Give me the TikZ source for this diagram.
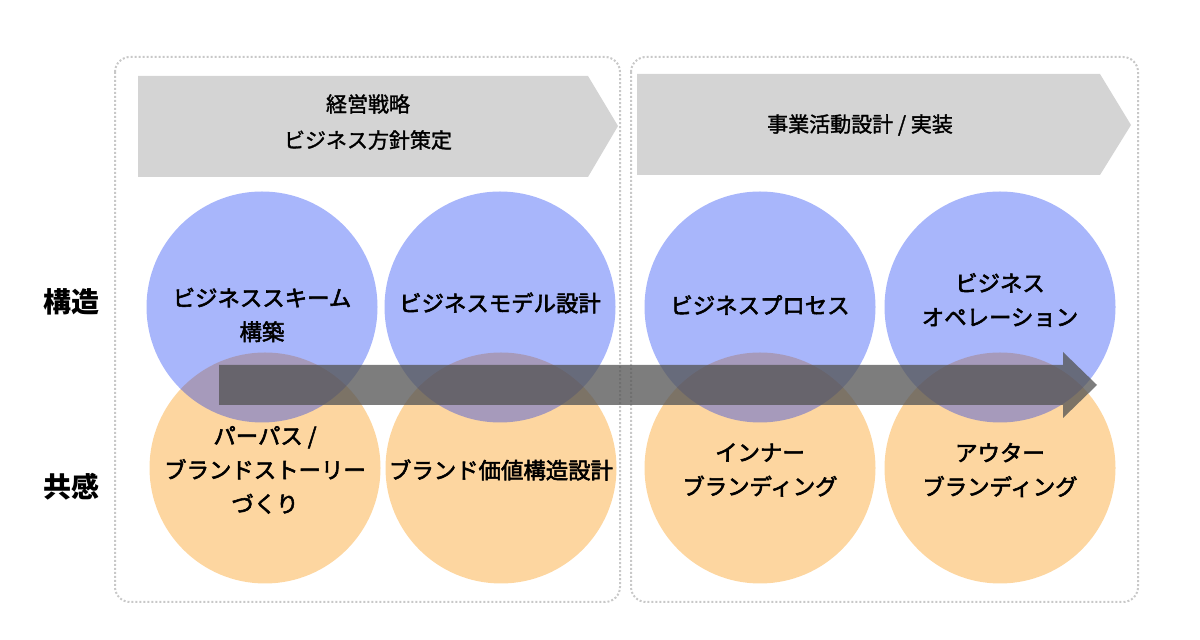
\documentclass[tikz,border=0pt]{standalone}
\usepackage{fontspec}
\setmainfont{Noto Sans CJK JP}
\newfontfamily\medfont[FakeBold=2.5]{Noto Sans CJK JP}
\newfontfamily\barfont[FakeBold=1.5]{Noto Sans CJK JP}
\usepackage{xcolor}
\usetikzlibrary{positioning}
\definecolor{barfill}{RGB}{212,212,212}
\definecolor{framegray}{RGB}{200,200,200}
\definecolor{blueish}{RGB}{0,40,242}
\definecolor{orangeish}{RGB}{253,214,160}
\definecolor{arrowgray}{RGB}{84,84,84}
\begin{document}
\begin{tikzpicture}[x=0.5pt,y=-0.5pt,
        frame/.style={draw=framegray, line width=1pt, dash pattern=on 1pt off 1pt, rounded corners=7.5pt},
        circ/.style={circle, inner sep=0pt, minimum size=115.5pt},
        bluenode/.style={circ, fill=blueish, fill opacity=0.34},
        orangenode/.style={circ, fill=orangeish},
        circtext/.style={align=center, text=black, font=\fontsize{11.2pt}{17pt}\selectfont\medfont},
        bartext/.style={align=center, font=\fontsize{10.5pt}{18pt}\selectfont\barfont},
        rowlabel/.style={font=\fontsize{14pt}{16pt}\selectfont\bfseries}]
    \useasboundingbox (0,0) rectangle (1200,640);
    % frames
    \draw[frame] (115,57) rectangle (620,602);
    \draw[frame] (631,57) rectangle (1138,602);
    % phase bars
    \fill[barfill] (138,76) -- (588,76) -- (618,126) -- (588,177) -- (138,177) -- cycle;
    \fill[barfill] (637,74) -- (1100,74) -- (1131,125) -- (1100,175) -- (637,175) -- cycle;
    \node[bartext] (strategy) at (368,122) {経営戦略\\ビジネス方針策定};
    \node[bartext] (implement) at (860,125) {事業活動設計 / 実装};
    % row labels
    \node[rowlabel] (structure) at (71,302) {構造};
    \node[rowlabel] (empathy) at (71,487) {共感};
    % circles
    \node[orangenode] (purpose) at (265,468) {};
    \node[orangenode] (brandvalue) at (501,468) {};
    \node[orangenode] (inner) at (760,468) {};
    \node[orangenode] (outer) at (1000,468) {};
    \node[bluenode] (scheme) at (262,307) {};
    \node[bluenode] (model) at (500,307) {};
    \node[bluenode] (process) at (760,307) {};
    \node[bluenode] (operation) at (1000,307) {};
    % circle texts
    \node[circtext] (purposetext) at ([yshift=-1pt]purpose.center) {パーパス /\\ブランドストーリー\\づくり};
    \node[circtext] (brandvaluetext) at ([yshift=-1pt]brandvalue.center) {ブランド価値構造設計};
    \node[circtext] (innertext) at ([yshift=-1pt]inner.center) {インナー\\ブランディング};
    \node[circtext] (outertext) at ([yshift=-1pt]outer.center) {アウター\\ブランディング};
    \node[circtext] (schemetext) at ([yshift=-4pt]scheme.center) {ビジネススキーム\\構築};
    \node[circtext] (modeltext) at ([yshift=2pt]model.center) {ビジネスモデル設計};
    \node[circtext] (processtext) at ([yshift=1pt]process.center) {ビジネスプロセス};
    \node[circtext] (operationtext) at ([yshift=3.5pt]operation.center) {ビジネス\\オペレーション};
    % flow arrow
    \fill[arrowgray, opacity=0.76] (219,365) -- (1063,365) -- (1063,352) -- (1097,385)
        -- (1063,418) -- (1063,405) -- (219,405) -- cycle;
\end{tikzpicture}
\end{document}
